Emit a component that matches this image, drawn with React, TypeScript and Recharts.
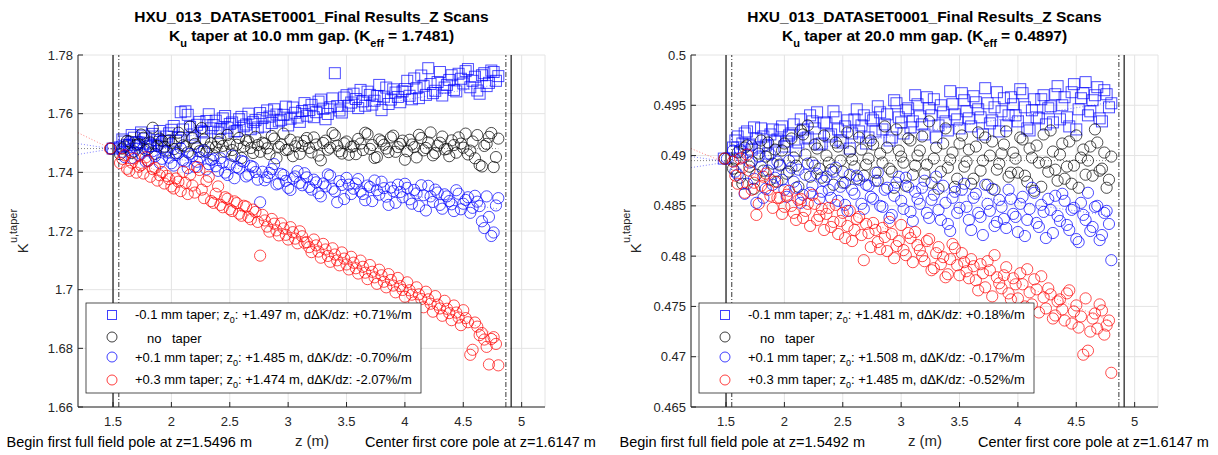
import React from 'react'
import { ComposedChart, Scatter, Line, XAxis, YAxis, CartesianGrid, ReferenceLine } from 'recharts'

const FONT = '"Liberation Sans", Arial, Helvetica, sans-serif'
const AXIS = '#262626'

// scan positions along the undulator (m), two interleaved passes
const zScanA = [
  1.56, 1.6, 1.64, 1.68, 1.72, 1.76, 1.8, 1.84, 1.88, 1.92,
  1.96, 2.0, 2.04, 2.08, 2.12, 2.16, 2.2, 2.24, 2.28, 2.32,
  2.36, 2.4, 2.44, 2.48, 2.52, 2.56, 2.6, 2.64, 2.68, 2.72,
  2.76, 2.8, 2.84, 2.88, 2.92, 2.96, 3.0, 3.04, 3.08, 3.12,
  3.16, 3.2, 3.24, 3.28, 3.32, 3.36, 3.4, 3.44, 3.48, 3.52,
  3.56, 3.6, 3.64, 3.68, 3.72, 3.76, 3.8, 3.84, 3.88, 3.92,
  3.96, 4.0, 4.04, 4.08, 4.12, 4.16, 4.2, 4.24, 4.28, 4.32,
  4.36, 4.4, 4.44, 4.48, 4.52, 4.56, 4.6, 4.64, 4.68, 4.72,
  4.76, 4.8,
]
const zScanB = [
  1.58, 1.62, 1.66, 1.7, 1.74, 1.78, 1.82, 1.86, 1.9, 1.94,
  1.98, 2.02, 2.06, 2.1, 2.14, 2.18, 2.22, 2.26, 2.3, 2.34,
  2.38, 2.42, 2.46, 2.5, 2.54, 2.58, 2.62, 2.66, 2.7, 2.74,
  2.78, 2.82, 2.86, 2.9, 2.94, 2.98, 3.02, 3.06, 3.1, 3.14,
  3.18, 3.22, 3.26, 3.3, 3.34, 3.38, 3.42, 3.46, 3.5, 3.54,
  3.58, 3.62, 3.66, 3.7, 3.74, 3.78, 3.82, 3.86, 3.9, 3.94,
  3.98, 4.02, 4.06, 4.1, 4.14, 4.18, 4.22, 4.26, 4.3, 4.34,
  4.38, 4.42, 4.46, 4.5, 4.54, 4.58, 4.62, 4.66, 4.7, 4.74,
  4.78,
]
const xTicks = [1.5, 2, 2.5, 3, 3.5, 4, 4.5, 5]
const fitZ = [1.2, 4.8]

// ---- 10.0 mm gap ----
const gap10Ticks = [1.66, 1.68, 1.7, 1.72, 1.74, 1.76, 1.78]
const gap10Minus01A = [
  1.7485, 1.7505, 1.7492, 1.7518, 1.7502, 1.7525, 1.7498, 1.7531, 1.751, 1.7488,
  1.7522, 1.7545, 1.7508, 1.7605, 1.7608, 1.7555, 1.7519, 1.7572, 1.7536, 1.7598,
  1.7561, 1.7535, 1.7584, 1.7552, 1.757, 1.7541, 1.7589, 1.7563, 1.7547, 1.7578,
  1.7602, 1.7556, 1.759, 1.7615, 1.7574, 1.7596, 1.756, 1.7621, 1.7587, 1.7609,
  1.7593, 1.763, 1.7605, 1.7648, 1.7581, 1.7622, 1.7738, 1.7611, 1.7655, 1.7627,
  1.7668, 1.7619, 1.7642, 1.7675, 1.7631, 1.766, 1.7612, 1.7689, 1.7648, 1.7672,
  1.7639, 1.7684, 1.7661, 1.772, 1.7653, 1.7695, 1.7755, 1.767, 1.7708, 1.7662,
  1.7698, 1.7731, 1.7676, 1.7719, 1.7745, 1.769, 1.7726, 1.7668, 1.7738, 1.7705,
  1.7742, 1.7728,
]
const gap10Minus01B = [
  1.7512, 1.7494, 1.7527, 1.7503, 1.7536, 1.7515, 1.749, 1.7522, 1.7541, 1.7506,
  1.7533, 1.7558, 1.7517, 1.7546, 1.7596, 1.7529, 1.7562, 1.754, 1.7575, 1.755,
  1.7576, 1.7548, 1.7592, 1.7565, 1.7539, 1.7581, 1.7557, 1.76, 1.7571, 1.7553,
  1.7585, 1.7611, 1.7568, 1.7597, 1.7579, 1.7624, 1.7583, 1.7603, 1.7572, 1.7636,
  1.7612, 1.7588, 1.7641, 1.7617, 1.7599, 1.7652, 1.7626, 1.7604, 1.7663, 1.7638,
  1.765, 1.7681, 1.7627, 1.7664, 1.7644, 1.7698, 1.7658, 1.7633, 1.7683, 1.7657,
  1.7676, 1.7712, 1.7649, 1.7687, 1.773, 1.7664, 1.7701, 1.7678, 1.7742, 1.7689,
  1.7715, 1.7681, 1.7736, 1.7703, 1.7752, 1.7712, 1.7679, 1.7731, 1.7694, 1.7747,
  1.7712,
]
const gap10NoTaperA = [
  1.7462, 1.7488, 1.7505, 1.7471, 1.7496, 1.7518, 1.7479, 1.7552, 1.749, 1.7508,
  1.7474, 1.7501, 1.7465, 1.752, 1.7488, 1.7556, 1.7497, 1.7472, 1.7512, 1.7485,
  1.7458, 1.7503, 1.749, 1.7527, 1.7476, 1.7494, 1.7449, 1.7509, 1.7483, 1.7521,
  1.747, 1.7498, 1.7462, 1.7515, 1.7487, 1.7532, 1.7478, 1.7455, 1.7502, 1.749,
  1.7517, 1.7468, 1.7495, 1.7441, 1.7508, 1.7484, 1.7526, 1.7472, 1.7499, 1.746,
  1.7489, 1.7514, 1.7476, 1.753, 1.7493, 1.7452, 1.7506, 1.7481, 1.7519, 1.747,
  1.7497, 1.7443, 1.7511, 1.7486, 1.7528, 1.7475, 1.7502, 1.7458, 1.7491, 1.7522,
  1.748, 1.7509, 1.7467, 1.7498, 1.7532, 1.7474, 1.7448, 1.7425, 1.749, 1.7521,
  1.7418, 1.7515,
]
const gap10NoTaperB = [
  1.7481, 1.7507, 1.7466, 1.7494, 1.7529, 1.7476, 1.7502, 1.7463, 1.7515, 1.7487,
  1.7509, 1.7479, 1.7535, 1.7492, 1.7468, 1.7516, 1.7486, 1.7551, 1.747, 1.7499,
  1.7486, 1.7514, 1.7471, 1.7496, 1.7455, 1.7517, 1.7488, 1.7505, 1.7466, 1.7493,
  1.7501, 1.7482, 1.7524, 1.7448, 1.7495, 1.7476, 1.7511, 1.7489, 1.7463, 1.7507,
  1.7483, 1.7519, 1.7457, 1.75, 1.7477, 1.7534, 1.7491, 1.7464, 1.7505, 1.7487,
  1.7462, 1.7498, 1.7535, 1.748, 1.7449, 1.7512, 1.7494, 1.7469, 1.7525, 1.7486,
  1.7508, 1.7472, 1.7495, 1.7451, 1.7517, 1.7483, 1.7536, 1.7466, 1.7501, 1.7478,
  1.7455, 1.7493, 1.7519, 1.7484, 1.7461, 1.7505, 1.7527, 1.742, 1.7497, 1.7534,
  1.7452,
]
const gap10Plus01A = [
  1.7489, 1.7452, 1.7476, 1.7501, 1.7458, 1.7483, 1.744, 1.7472, 1.7495, 1.7446,
  1.7468, 1.7431, 1.7459, 1.7482, 1.7437, 1.7463, 1.7419, 1.7451, 1.7475, 1.7428,
  1.7446, 1.7405, 1.7433, 1.7391, 1.7457, 1.7418, 1.7439, 1.7386, 1.7422, 1.7401,
  1.7298, 1.7373, 1.7398, 1.7428, 1.7362, 1.7391, 1.7347, 1.7379, 1.7404, 1.7356,
  1.7383, 1.7341, 1.7366, 1.7318, 1.7352, 1.7389, 1.7335, 1.737, 1.7309, 1.7358,
  1.7344, 1.7377, 1.7326, 1.7355, 1.7302, 1.7339, 1.7368, 1.7317, 1.7348, 1.7296,
  1.7333, 1.7361, 1.7308, 1.734, 1.7285, 1.7322, 1.7354, 1.7299, 1.7331, 1.7276,
  1.7318, 1.7291, 1.7339, 1.7274, 1.7306, 1.7262, 1.732, 1.7285, 1.721, 1.7248,
  1.7195, 1.7312,
]
const gap10Plus01B = [
  1.747, 1.7494, 1.7449, 1.7481, 1.7463, 1.7437, 1.7488, 1.7455, 1.7432, 1.7474,
  1.745, 1.7423, 1.7466, 1.7441, 1.7414, 1.7455, 1.7436, 1.747, 1.741, 1.7442,
  1.7421, 1.7448, 1.7399, 1.7427, 1.738, 1.7413, 1.7436, 1.7392, 1.7418, 1.7375,
  1.7402, 1.7384, 1.7411, 1.7359, 1.7395, 1.7371, 1.734, 1.7386, 1.7364, 1.7397,
  1.735, 1.7375, 1.7329, 1.7362, 1.7393, 1.7344, 1.7298, 1.7357, 1.7381, 1.7326,
  1.7362, 1.7335, 1.7305, 1.735, 1.7372, 1.7324, 1.7346, 1.7289, 1.7336, 1.7358,
  1.7315, 1.7347, 1.7293, 1.7328, 1.7356, 1.727, 1.7318, 1.7341, 1.7289, 1.7325,
  1.7302, 1.7268, 1.7327, 1.7293, 1.7315, 1.7279, 1.73, 1.7233, 1.7318, 1.7183,
  1.7287,
]
const gap10Plus03A = [
  1.7432, 1.7458, 1.7405, 1.7447, 1.7419, 1.7396, 1.7438, 1.7411, 1.7372, 1.7401,
  1.7388, 1.7352, 1.7379, 1.7336, 1.7364, 1.7392, 1.7331, 1.7408, 1.7312, 1.7385,
  1.7296, 1.7352, 1.7281, 1.731, 1.7268, 1.7295, 1.7252, 1.7283, 1.724, 1.7265,
  1.7116, 1.7236, 1.7198, 1.7225, 1.7185, 1.7209, 1.7171, 1.7196, 1.7158, 1.7182,
  1.7162, 1.7128, 1.7151, 1.7109, 1.7137, 1.7095, 1.712, 1.7083, 1.7106, 1.7069,
  1.7092, 1.7055, 1.7078, 1.7036, 1.7061, 1.702, 1.7049, 1.7008, 1.7033, 1.6991,
  1.7012, 1.6976, 1.6998, 1.6957, 1.6984, 1.694, 1.6967, 1.6925, 1.6949, 1.6911,
  1.6935, 1.6896, 1.6922, 1.6879, 1.6903, 1.6778, 1.6888, 1.6845, 1.683, 1.6745,
  1.6838, 1.6742,
]
const gap10Plus03B = [
  1.7446, 1.7412, 1.7433, 1.7399, 1.7424, 1.7451, 1.7385, 1.7415, 1.739, 1.7362,
  1.7377, 1.7345, 1.7368, 1.7402, 1.7326, 1.7355, 1.7418, 1.7341, 1.737, 1.7302,
  1.7327, 1.7289, 1.7315, 1.7274, 1.7301, 1.7259, 1.7286, 1.7248, 1.7273, 1.7231,
  1.7255, 1.7215, 1.7241, 1.7202, 1.7226, 1.7187, 1.7213, 1.7174, 1.7199, 1.716,
  1.7145, 1.7171, 1.713, 1.7156, 1.7115, 1.7141, 1.71, 1.7127, 1.7086, 1.7112,
  1.7073, 1.7099, 1.7058, 1.7084, 1.7042, 1.7068, 1.7027, 1.7053, 1.7014, 1.704,
  1.6999, 1.7025, 1.6983, 1.7008, 1.6968, 1.6993, 1.6952, 1.6978, 1.6936, 1.6962,
  1.692, 1.6946, 1.6905, 1.693, 1.6889, 1.6795, 1.6874, 1.6852, 1.6805, 1.6832,
  1.6815,
]
const gap10Z0 = [1.497, 1.48, 1.485, 1.474]
const gap10Keff = 1.7481
const gap10FitStart = [1.7461, 1.7481, 1.7498, 1.7535]
const gap10FitEnd = [1.77, 1.7481, 1.7275, 1.684]
const gap10Marks = [1.5, 1.5496, 4.865, 4.91]

// ---- 20.0 mm gap ----
const gap20Ticks = [0.465, 0.47, 0.475, 0.48, 0.485, 0.49, 0.495, 0.5]
const gap20Minus01A = [
  0.4908, 0.4919, 0.4912, 0.4924, 0.4906, 0.4917, 0.4927, 0.491, 0.4921, 0.4914,
  0.4925, 0.4909, 0.492, 0.4931, 0.4913, 0.4926, 0.4918, 0.4934, 0.4943, 0.4912,
  0.4932, 0.4921, 0.4938, 0.4915, 0.4929, 0.4907, 0.4936, 0.4924, 0.494, 0.4918,
  0.4935, 0.4949, 0.4926, 0.4941, 0.4918, 0.4952, 0.4933, 0.4945, 0.4928, 0.496,
  0.4939, 0.4921, 0.4947, 0.4956, 0.493, 0.4943, 0.4925, 0.4951, 0.4936, 0.4962,
  0.4944, 0.4929, 0.4953, 0.4938, 0.4967, 0.4932, 0.4948, 0.4924, 0.4957, 0.494,
  0.4951, 0.4934, 0.4962, 0.4927, 0.4945, 0.4938, 0.4956, 0.4931, 0.4949, 0.4961,
  0.4936, 0.4958, 0.4929, 0.4971, 0.4946, 0.4962, 0.494, 0.4955, 0.4968, 0.4934,
  0.4961, 0.4952,
]
const gap20Minus01B = [
  0.4915, 0.4904, 0.4922, 0.4911, 0.4928, 0.4908, 0.4919, 0.4902, 0.4926, 0.4916,
  0.4929, 0.4914, 0.4922, 0.4905, 0.4936, 0.4917, 0.494, 0.4927, 0.4911, 0.4933,
  0.4919, 0.4944, 0.4926, 0.4913, 0.4935, 0.4922, 0.4946, 0.493, 0.4912, 0.4937,
  0.4924, 0.4943, 0.4931, 0.4915, 0.4955, 0.4938, 0.4922, 0.4947, 0.4934, 0.4951,
  0.4931, 0.4958, 0.494, 0.4918, 0.495, 0.4934, 0.4964, 0.4941, 0.4927, 0.4955,
  0.4937, 0.4959, 0.4946, 0.4921, 0.4952, 0.4935, 0.4963, 0.4944, 0.493, 0.4958,
  0.494, 0.4966, 0.4948, 0.4925, 0.4956, 0.4937, 0.496, 0.4947, 0.4933, 0.4969,
  0.495, 0.4938, 0.4963, 0.4926, 0.4957, 0.4973, 0.4944, 0.496, 0.4937, 0.4965,
  0.4948,
]
const gap20NoTaperA = [
  0.4887, 0.4903, 0.4872, 0.491, 0.4894, 0.4881, 0.4915, 0.4899, 0.4876, 0.4906,
  0.4891, 0.4912, 0.4884, 0.4898, 0.4869, 0.4921, 0.493, 0.4893, 0.4907, 0.4878,
  0.49, 0.4886, 0.4913, 0.4895, 0.4873, 0.4904, 0.4889, 0.4918, 0.488, 0.4897,
  0.4911, 0.4875, 0.4893, 0.4908, 0.4884, 0.4926, 0.4899, 0.487, 0.4915, 0.489,
  0.4905, 0.4882, 0.4934, 0.4897, 0.4867, 0.4912, 0.4888, 0.4903, 0.4877, 0.492,
  0.4894, 0.4872, 0.4909, 0.4885, 0.4918, 0.49, 0.4866, 0.4892, 0.4911, 0.4879,
  0.4903, 0.4883, 0.4916, 0.4874, 0.4898, 0.491, 0.4869, 0.4893, 0.4925, 0.4886,
  0.4901, 0.4877, 0.4914, 0.489, 0.4868, 0.4906, 0.4895, 0.488, 0.4913, 0.4887,
  0.4868, 0.4899,
]
const gap20NoTaperB = [
  0.4896, 0.4878, 0.4908, 0.4889, 0.4867, 0.4902, 0.4885, 0.4913, 0.4892, 0.4874,
  0.4905, 0.4882, 0.4917, 0.489, 0.4925, 0.4901, 0.4879, 0.4911, 0.4887, 0.492,
  0.4893, 0.4871, 0.4909, 0.4884, 0.4923, 0.4896, 0.4877, 0.4906, 0.4891, 0.4915,
  0.4883, 0.4902, 0.4929, 0.4887, 0.4868, 0.4905, 0.4893, 0.4917, 0.4881, 0.49,
  0.4919, 0.4891, 0.4873, 0.4908, 0.4884, 0.4927, 0.4896, 0.4869, 0.4912, 0.4889,
  0.4906, 0.4877, 0.4923, 0.4895, 0.4871, 0.4914, 0.4886, 0.4902, 0.4924, 0.4883,
  0.4897, 0.4918, 0.488, 0.4907, 0.4865, 0.4893, 0.4921, 0.4884, 0.4904, 0.4875,
  0.4912, 0.4889, 0.4872, 0.492, 0.4898, 0.4881, 0.4909, 0.4926, 0.4885, 0.4903,
  0.4876,
]
const gap20Plus01A = [
  0.4905, 0.4881, 0.4898, 0.4872, 0.491, 0.4853, 0.4889, 0.4867, 0.4901, 0.4878,
  0.489, 0.4866, 0.4895, 0.4874, 0.4886, 0.4861, 0.4892, 0.487, 0.4882, 0.4864,
  0.4879, 0.4858, 0.4888, 0.4869, 0.4851, 0.4881, 0.4862, 0.4876, 0.4847, 0.487,
  0.4857, 0.4883, 0.4849, 0.4868, 0.4841, 0.4873, 0.4855, 0.4878, 0.4844, 0.4864,
  0.4852, 0.4875, 0.4838, 0.4861, 0.4846, 0.487, 0.4832, 0.4858, 0.4843, 0.4866,
  0.4849, 0.4826, 0.4862, 0.4839, 0.4871, 0.4845, 0.483, 0.4856, 0.4837, 0.4866,
  0.4842, 0.4824, 0.4859, 0.4836, 0.4868, 0.4833, 0.4851, 0.4818, 0.4846, 0.486,
  0.4835, 0.4855, 0.4826, 0.4848, 0.4814, 0.4841, 0.4863, 0.4829, 0.485, 0.4821,
  0.4845, 0.4796,
]
const gap20Plus01B = [
  0.4884, 0.4906, 0.4862, 0.4893, 0.4877, 0.4899, 0.4858, 0.4885, 0.4871, 0.4894,
  0.4876, 0.4859, 0.4888, 0.4868, 0.4853, 0.4881, 0.4863, 0.489, 0.4857, 0.4875,
  0.4866, 0.4884, 0.4855, 0.4873, 0.4845, 0.4866, 0.488, 0.4852, 0.4871, 0.4859,
  0.4875, 0.485, 0.4866, 0.4838, 0.486, 0.4879, 0.4847, 0.4869, 0.4835, 0.4857,
  0.4868, 0.4843, 0.4856, 0.4879, 0.4836, 0.4853, 0.4825, 0.4864, 0.4848, 0.4872,
  0.4836, 0.4858, 0.4843, 0.4821, 0.4852, 0.4867, 0.4834, 0.4849, 0.4828, 0.4857,
  0.4839, 0.4852, 0.482, 0.4847, 0.4863, 0.4829, 0.4844, 0.4857, 0.4823, 0.484,
  0.4862, 0.4831, 0.4846, 0.4817, 0.4853, 0.4836, 0.4825, 0.4849, 0.4816, 0.4843,
  0.4832,
]
const gap20Plus03A = [
  0.4894, 0.4872, 0.4888, 0.4901, 0.4866, 0.4841, 0.487, 0.4882, 0.486, 0.4874,
  0.4858, 0.4849, 0.4865, 0.4843, 0.4856, 0.4838, 0.4852, 0.4861, 0.4836, 0.4847,
  0.4842, 0.4829, 0.4851, 0.4835, 0.4818, 0.4845, 0.4826, 0.4839, 0.4796, 0.4823,
  0.4833, 0.4814, 0.4828, 0.4805, 0.4822, 0.481, 0.4831, 0.4801, 0.4818, 0.4824,
  0.4806, 0.4795, 0.4817, 0.4788, 0.4809, 0.4799, 0.4782, 0.4812, 0.4791, 0.4803,
  0.4785, 0.4797, 0.4776, 0.4792, 0.4769, 0.4786, 0.4801, 0.4773, 0.4781, 0.4763,
  0.4778, 0.4758, 0.4772, 0.4787, 0.4752, 0.4767, 0.478, 0.4748, 0.4762, 0.4741,
  0.4757, 0.4736, 0.4766, 0.4745, 0.4729, 0.4702, 0.4706, 0.4738, 0.4728, 0.4746,
  0.4731, 0.4684,
]
const gap20Plus03B = [
  0.488, 0.4897, 0.4863, 0.4885, 0.4873, 0.4852, 0.4879, 0.4866, 0.4848, 0.4858,
  0.4842, 0.4861, 0.485, 0.4836, 0.4857, 0.4845, 0.483, 0.4852, 0.484, 0.4826,
  0.4848, 0.4834, 0.4822, 0.4843, 0.483, 0.4815, 0.4837, 0.4821, 0.4832, 0.4809,
  0.4826, 0.4807, 0.4819, 0.4834, 0.4798, 0.4815, 0.4806, 0.4823, 0.4794, 0.4811,
  0.48, 0.4815, 0.4786, 0.4803, 0.4792, 0.4779, 0.4797, 0.4808, 0.4781, 0.4794,
  0.4778, 0.479, 0.4766, 0.4783, 0.4795, 0.476, 0.4779, 0.4768, 0.4789, 0.4757,
  0.4772, 0.4783, 0.475, 0.4764, 0.4777, 0.4744, 0.4759, 0.4768, 0.4738, 0.4755,
  0.4747, 0.4763, 0.4733, 0.4751, 0.474, 0.4758, 0.4725, 0.4743, 0.4752, 0.4722,
  0.4736,
]
const gap20Z0 = [1.481, 1.49, 1.508, 1.485]
const gap20Keff = 0.4897
const gap20FitStart = [0.4888, 0.4895, 0.4899, 0.4907]
const gap20FitEnd = [0.4953, 0.4895, 0.484, 0.4735]
const gap20Marks = [1.5, 1.5492, 4.865, 4.91]

// legend texts: [label up to z, rest after the subscript 0]
const gap10Legend = [
  ['-0.1 mm taper; z', ': +1.497 m, d\u0394K/dz: +0.71%/m'],
  null,
  ['+0.1 mm taper; z', ': +1.485 m, d\u0394K/dz: -0.70%/m'],
  ['+0.3 mm taper; z', ': +1.474 m, d\u0394K/dz: -2.07%/m'],
]
const gap20Legend = [
  ['-0.1 mm taper; z', ': +1.481 m, d\u0394K/dz: +0.18%/m'],
  null,
  ['+0.1 mm taper; z', ': +1.508 m, d\u0394K/dz: -0.17%/m'],
  ['+0.3 mm taper; z', ': +1.485 m, d\u0394K/dz: -0.52%/m'],
]

const SERIES_STYLE = [
  { color: '#0000ff', square: true },
  { color: '#000000', square: false },
  { color: '#0000ff', square: false },
  { color: '#ff0000', square: false },
]

const makeShape = (color: string, square: boolean) => (props: any) => {
  const { cx, cy } = props
  if (cx == null || cy == null) return <g />
  if (square) {
    return <rect x={cx - 5.5} y={cy - 5.5} width={11} height={11} fill="none" stroke={color} strokeOpacity={0.7} strokeWidth={1} />
  }
  return <circle cx={cx} cy={cy} r={5.6} fill="none" stroke={color} strokeOpacity={0.7} strokeWidth={1} />
}

const fmt = (v: number) => String(+v.toFixed(4))

function Panel({ left, yTicks, scansA, scansB, z0, keff, fitStart, fitEnd, marks }: any) {
  const yDomain = [yTicks[0], yTicks[yTicks.length - 1]]
  const tickStyle = { fontSize: 13, fill: AXIS, fontFamily: FONT }
  return (
    <div style={{ position: 'absolute', left, top: 0 }}>
      <ComposedChart width={609} height={455} margin={{ top: 55, right: 64, bottom: 18, left: 38 }}>
        <CartesianGrid stroke="#e4e4e4" strokeWidth={1} />
        <XAxis
          type="number" dataKey="z" domain={[1.2, 5.2]} ticks={xTicks} allowDataOverflow
          height={30} tickSize={-5} tickMargin={15} tick={tickStyle}
          axisLine={{ stroke: AXIS }} tickLine={{ stroke: AXIS }} tickFormatter={fmt}
        />
        <XAxis
          xAxisId="top" orientation="top" type="number" domain={[1.2, 5.2]} ticks={xTicks} allowDataOverflow
          height={0} tickSize={-5} tick={false} axisLine={{ stroke: AXIS }} tickLine={{ stroke: AXIS }}
        />
        <YAxis
          type="number" dataKey="k" domain={yDomain} ticks={yTicks} allowDataOverflow
          width={40} tickSize={-5} tickMargin={10} tick={tickStyle}
          axisLine={{ stroke: AXIS }} tickLine={{ stroke: AXIS }} tickFormatter={fmt}
        />
        <YAxis
          yAxisId="right" orientation="right" type="number" domain={yDomain} ticks={yTicks} allowDataOverflow
          width={0} tickSize={-5} tick={false} axisLine={{ stroke: AXIS }} tickLine={{ stroke: AXIS }}
        />
        {marks.map((m: number, i: number) => (
          <ReferenceLine
            key={'m' + i} x={m} stroke="#000"
            strokeWidth={i === 0 || i === 3 ? 1.1 : 0.8}
            strokeDasharray={i === 0 || i === 3 ? undefined : '5 2 1 2'}
          />
        ))}
        {scansA.map((_: number[], i: number) => (
          <Line
            key={'f' + i}
            data={fitZ.map((z, j) => ({ z, k: j === 0 ? fitStart[i] : fitEnd[i] }))}
            dataKey="k" stroke={SERIES_STYLE[i].color} strokeOpacity={0.55} strokeWidth={0.9}
            strokeDasharray="1 2" dot={false} activeDot={false} isAnimationActive={false}
          />
        ))}
        {scansA.map((valsA: number[], i: number) => (
          <Scatter
            key={'s' + i}
            data={[
              { z: z0[i], k: keff },
              ...zScanA.map((z, j) => ({ z, k: valsA[j] })),
              ...zScanB.map((z, j) => ({ z, k: scansB[i][j] })),
            ]}
            dataKey="k"
            shape={makeShape(SERIES_STYLE[i].color, SERIES_STYLE[i].square)}
            isAnimationActive={false}
          />
        ))}
      </ComposedChart>
    </div>
  )
}

function PanelText({ o, gap, keff, beginZ, legend }: any) {
  const rows = [315, 337, 357, 380]
  const base = [318.5, 342.5, 361.5, 384]
  return (
    <g fontFamily={FONT}>
      <text x={o + 311.5} y={22} textAnchor="middle" fontSize={15.5} fontWeight="bold" fill="#000">
        HXU_013_DATASET0001_Final Results_Z Scans
      </text>
      <text x={o + 311.5} y={41} textAnchor="middle" fontSize={15.5} fontWeight="bold" fill="#000">
        K<tspan dy={6} fontSize={11}>u</tspan>
        <tspan dy={-6}>{` taper at ${gap} mm gap. (K`}</tspan>
        <tspan dy={6} fontSize={11}>eff</tspan>
        <tspan dy={-6}>{` = ${keff})`}</tspan>
      </text>
      <text transform={`translate(${o + 28},231) rotate(-90)`} textAnchor="middle" fontSize={15} fill={AXIS}>
        K<tspan dy={-11} fontSize={11}>u,taper</tspan>
      </text>
      <text x={o + 312} y={446} textAnchor="middle" fontSize={15} fill={AXIS}>z (m)</text>
      <text x={o + 252} y={447} textAnchor="end" fontSize={14.5} fill="#000">
        {`Begin first full field pole at z=${beginZ} m`}
      </text>
      <text x={o + 365} y={447} fontSize={14.5} fill="#000">Center first core pole at z=1.6147 m</text>

      <rect x={o + 86} y={303} width={335} height={90} fill="#fff" stroke={AXIS} strokeWidth={0.8} />
      {SERIES_STYLE.map((s, i) =>
        s.square ? (
          <rect key={'lm' + i} x={o + 107.5} y={rows[i] - 4.5} width={9} height={9} fill="none" stroke={s.color} strokeOpacity={0.75} />
        ) : (
          <circle key={'lm' + i} cx={o + 112} cy={rows[i]} r={5} fill="none" stroke={s.color} strokeOpacity={0.75} />
        ),
      )}
      {legend.map((row: any, i: number) =>
        row ? (
          <text key={'lt' + i} x={o + 135} y={base[i]} fontSize={13} fill="#000">
            {row[0]}
            <tspan dy={4} fontSize={9}>0</tspan>
            <tspan dy={-4}>{row[1]}</tspan>
          </text>
        ) : (
          <g key={'lt' + i}>
            <text x={o + 147} y={base[i]} fontSize={13} fill="#000">no</text>
            <text x={o + 172} y={base[i]} fontSize={13} fill="#000">taper</text>
          </g>
        ),
      )}
    </g>
  )
}

export default function App() {
  return (
    <div style={{ position: 'absolute', left: 0, top: 0, width: 1218, height: 455, background: '#fff', overflow: 'hidden' }}>
      <Panel
        left={0} yTicks={gap10Ticks}
        scansA={[gap10Minus01A, gap10NoTaperA, gap10Plus01A, gap10Plus03A]}
        scansB={[gap10Minus01B, gap10NoTaperB, gap10Plus01B, gap10Plus03B]}
        z0={gap10Z0} keff={gap10Keff} fitStart={gap10FitStart} fitEnd={gap10FitEnd} marks={gap10Marks}
      />
      <Panel
        left={613} yTicks={gap20Ticks}
        scansA={[gap20Minus01A, gap20NoTaperA, gap20Plus01A, gap20Plus03A]}
        scansB={[gap20Minus01B, gap20NoTaperB, gap20Plus01B, gap20Plus03B]}
        z0={gap20Z0} keff={gap20Keff} fitStart={gap20FitStart} fitEnd={gap20FitEnd} marks={gap20Marks}
      />
      <svg width={1218} height={455} style={{ position: 'absolute', left: 0, top: 0, pointerEvents: 'none' }}>
        <PanelText o={0} gap="10.0" keff="1.7481" beginZ="1.5496" legend={gap10Legend} />
        <PanelText o={613} gap="20.0" keff="0.4897" beginZ="1.5492" legend={gap20Legend} />
      </svg>
    </div>
  )
}
